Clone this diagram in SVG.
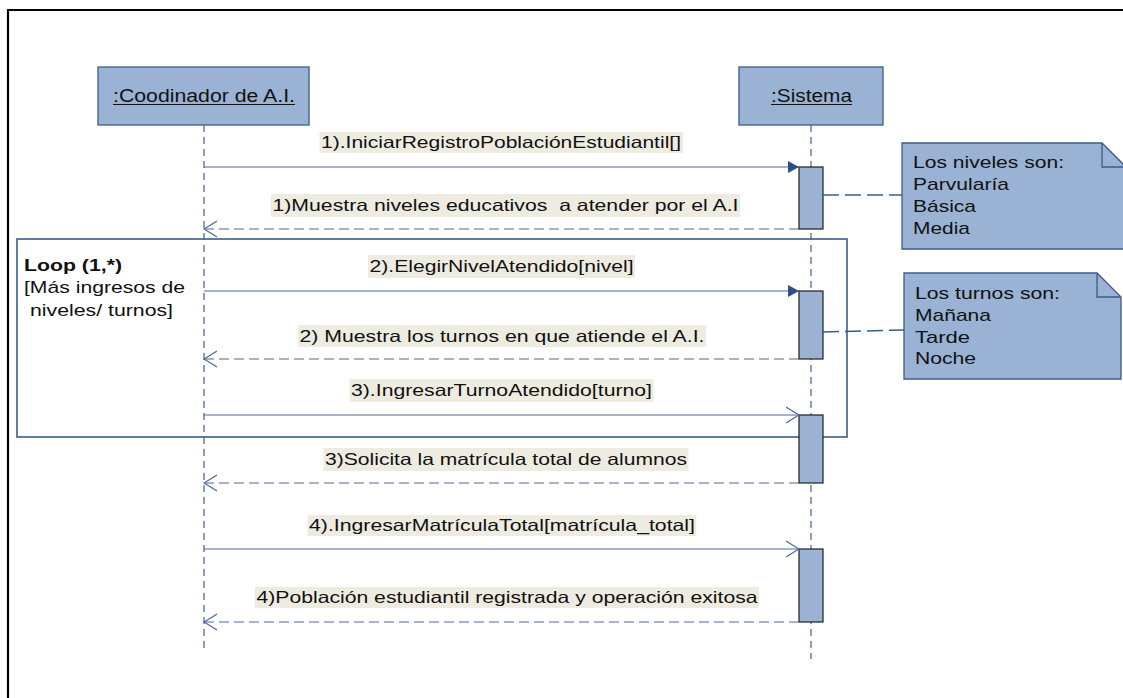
<svg xmlns="http://www.w3.org/2000/svg" width="1123" height="698" viewBox="0 0 1123 698">
  <defs>
    <style>
      .box { fill: #9AB3D4; stroke: #385D8A; stroke-width: 1.3; }
      .act { fill: #9AB3D4; stroke: #1E1E1E; stroke-width: 1.2; }
      .lifeline { stroke: #3F6193; stroke-width: 1.2; stroke-dasharray: 7 5; fill: none; }
      .call { stroke: #4A6A9C; stroke-width: 1.2; fill: none; }
      .reply { stroke: #4A6A9C; stroke-width: 1.2; stroke-dasharray: 10 5; fill: none; }
      .anchor { stroke: #385D8A; stroke-width: 1.5; stroke-dasharray: 16 6; fill: none; }
      .frame { fill: none; stroke: #385D8A; stroke-width: 1.6; }
      .lblbg { fill: #EEECE1; }
      .lbl { font-family: "Liberation Sans", Arial, sans-serif; font-size: 16.5px; fill: #111; }
      .hdr { font-family: "Liberation Sans", Arial, sans-serif; font-size: 17.5px; fill: #111; }
      .note { font-family: "Liberation Sans", Arial, sans-serif; font-size: 17px; fill: #111; }
      .ul { stroke: #111; stroke-width: 1; }
    </style>
    <marker id="filled" viewBox="0 0 11 12" refX="11" refY="6" markerWidth="11" markerHeight="12" markerUnits="userSpaceOnUse" orient="auto">
      <path d="M0,0 L11,6 L0,12 Z" fill="#2B4E84"/>
    </marker>
    <marker id="open" viewBox="0 0 14 18" refX="13" refY="9" markerWidth="14" markerHeight="18" markerUnits="userSpaceOnUse" orient="auto">
      <path d="M0,1 L13,9 L0,17" fill="none" stroke="#4A6A9C" stroke-width="1.2"/>
    </marker>
  </defs>

  <rect x="0" y="0" width="1123" height="698" fill="#FFFFFF"/>

  <!-- page border (left and top edges) -->
  <path d="M8,698 L8,10 L1123,10" fill="none" stroke="#000" stroke-width="2.2"/>

  <!-- loop combined fragment -->
  <g id="loop">
    <rect class="frame" x="17" y="239" width="830" height="198"/>
    <text class="note" x="24" y="271" font-weight="bold" textLength="98" lengthAdjust="spacingAndGlyphs">Loop (1,*)</text>
    <text class="note" x="24" y="293" textLength="161" lengthAdjust="spacingAndGlyphs">[Más ingresos de</text>
    <text class="note" x="30" y="316" textLength="143" lengthAdjust="spacingAndGlyphs">niveles/ turnos]</text>
  </g>

  <!-- lifelines -->
  <g id="lifelines">
    <line class="lifeline" x1="204" y1="125" x2="204" y2="652"/>
    <line class="lifeline" x1="811" y1="125" x2="811" y2="659"/>
  </g>

  <!-- participants -->
  <g id="coordinador">
    <rect class="box" x="98" y="67" width="211" height="58"/>
    <text class="hdr" x="113" y="102" textLength="182" lengthAdjust="spacingAndGlyphs">:Coodinador de A.I.</text>
    <line class="ul" x1="113" y1="104.5" x2="295" y2="104.5"/>
  </g>
  <g id="sistema">
    <rect class="box" x="739" y="67" width="144" height="58"/>
    <text class="hdr" x="771" y="102" textLength="81" lengthAdjust="spacingAndGlyphs">:Sistema</text>
    <line class="ul" x1="771" y1="104.5" x2="852" y2="104.5"/>
  </g>

  <!-- activation bars -->
  <g id="activations">
    <rect class="act" x="799" y="167" width="24" height="62"/>
    <rect class="act" x="799" y="291" width="24" height="68"/>
    <rect class="act" x="799" y="415" width="24" height="68"/>
    <rect class="act" x="799" y="549" width="24" height="73"/>
  </g>

  <!-- notes -->
  <g id="note-niveles">
    <path class="box" d="M902,143 L1102,143 L1126,167 L1126,249 L902,249 Z"/>
    <path d="M1102,143 L1102,167 L1126,167" fill="none" stroke="#385D8A" stroke-width="1.3"/>
    <text class="note" x="913" y="168" textLength="151" lengthAdjust="spacingAndGlyphs">Los niveles son:</text>
    <text class="note" x="913" y="190" textLength="96" lengthAdjust="spacingAndGlyphs">Parvularía</text>
    <text class="note" x="913" y="212" textLength="63" lengthAdjust="spacingAndGlyphs">Básica</text>
    <text class="note" x="913" y="234" textLength="57" lengthAdjust="spacingAndGlyphs">Media</text>
  </g>
  <g id="note-turnos">
    <path class="box" d="M904,273 L1097,273 L1121,297 L1121,379 L904,379 Z"/>
    <path d="M1097,273 L1097,297 L1121,297" fill="none" stroke="#385D8A" stroke-width="1.3"/>
    <text class="note" x="915" y="299" textLength="145" lengthAdjust="spacingAndGlyphs">Los turnos son:</text>
    <text class="note" x="915" y="321" textLength="76" lengthAdjust="spacingAndGlyphs">Mañana</text>
    <text class="note" x="915" y="343" textLength="55" lengthAdjust="spacingAndGlyphs">Tarde</text>
    <text class="note" x="915" y="364" textLength="61" lengthAdjust="spacingAndGlyphs">Noche</text>
  </g>

  <!-- messages -->
  <g id="connectors">
    <line class="anchor" x1="823" y1="195" x2="902" y2="195"/>
    <line class="anchor" x1="823" y1="332" x2="904" y2="330"/>

    <line class="call" x1="204" y1="167" x2="799" y2="167" marker-end="url(#filled)"/>
    <line class="reply" x1="799" y1="229" x2="204" y2="229" marker-end="url(#open)"/>
    <line class="call" x1="204" y1="291" x2="799" y2="291" marker-end="url(#filled)"/>
    <line class="reply" x1="799" y1="359" x2="204" y2="359" marker-end="url(#open)"/>
    <line class="call" x1="204" y1="415" x2="799" y2="415" marker-end="url(#open)"/>
    <line class="reply" x1="799" y1="483" x2="204" y2="483" marker-end="url(#open)"/>
    <line class="call" x1="204" y1="549" x2="799" y2="549" marker-end="url(#open)"/>
    <line class="reply" x1="799" y1="622" x2="204" y2="622" marker-end="url(#open)"/>
  </g>

  <!-- message labels -->
  <g id="labels">
    <rect class="lblbg" x="319.5" y="132" width="363.5" height="21"/>
    <text class="lbl" x="321" y="148" textLength="360" lengthAdjust="spacingAndGlyphs">1).IniciarRegistroPoblaciónEstudiantil[]</text>

    <rect class="lblbg" x="271" y="194" width="469" height="23"/>
    <text class="lbl" x="272.5" y="211" textLength="466" lengthAdjust="spacingAndGlyphs" xml:space="preserve">1)Muestra niveles educativos  a atender por el A.I</text>

    <rect class="lblbg" x="368" y="255" width="267" height="23"/>
    <text class="lbl" x="369.5" y="272" textLength="264" lengthAdjust="spacingAndGlyphs">2).ElegirNivelAtendido[nivel]</text>

    <rect class="lblbg" x="298" y="325" width="408" height="22"/>
    <text class="lbl" x="299.5" y="342" textLength="405" lengthAdjust="spacingAndGlyphs">2) Muestra los turnos en que atiende el A.I.</text>

    <rect class="lblbg" x="349.5" y="379" width="304" height="23"/>
    <text class="lbl" x="351" y="396" textLength="301" lengthAdjust="spacingAndGlyphs">3).IngresarTurnoAtendido[turno]</text>

    <rect class="lblbg" x="323.5" y="448" width="365" height="23"/>
    <text class="lbl" x="325" y="465" textLength="362" lengthAdjust="spacingAndGlyphs">3)Solicita la matrícula total de alumnos</text>

    <rect class="lblbg" x="307.5" y="515" width="389" height="21"/>
    <text class="lbl" x="309" y="531" textLength="386" lengthAdjust="spacingAndGlyphs">4).IngresarMatrículaTotal[matrícula_total]</text>

    <rect class="lblbg" x="255" y="587" width="504" height="21"/>
    <text class="lbl" x="256.5" y="603" textLength="501" lengthAdjust="spacingAndGlyphs">4)Población estudiantil registrada y operación exitosa</text>
  </g>
</svg>
